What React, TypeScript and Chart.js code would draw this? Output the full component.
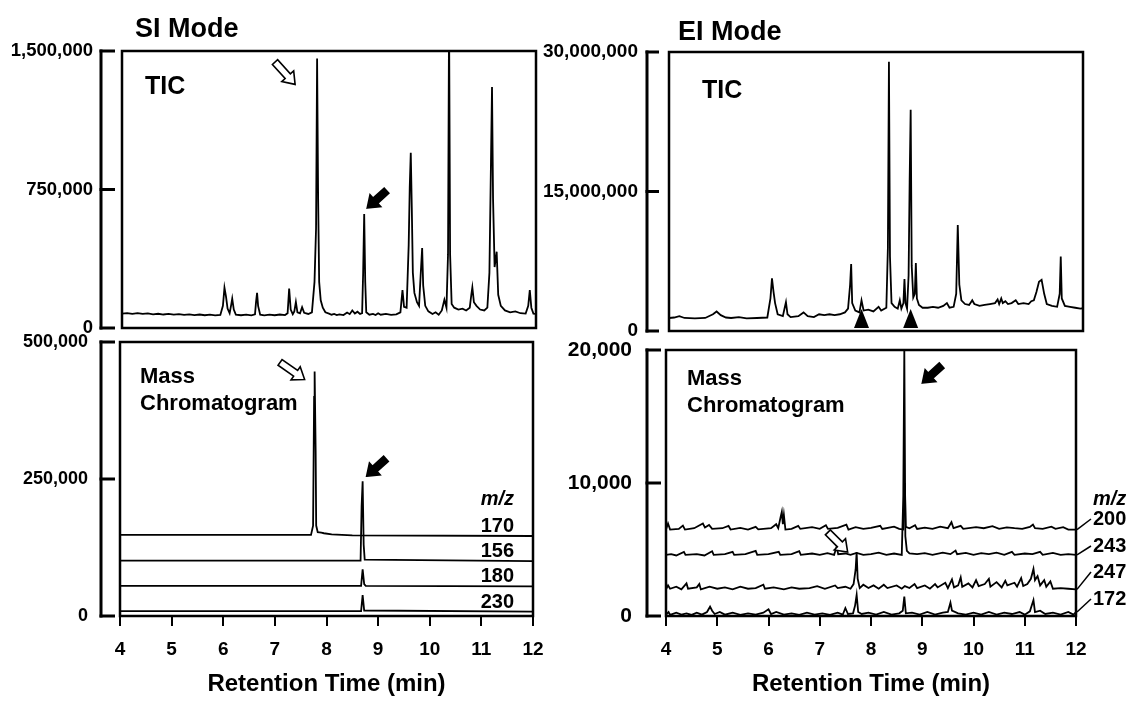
import React, { useEffect, useRef } from "react";
import { Chart, registerables } from "chart.js";

Chart.register(...registerables);

const FONT = '"Liberation Sans", Arial, Helvetica, sans-serif';
const PAGE_W = 1130;
const PAGE_H = 702;

// Retention time axis (min)
const TIME_MIN = 4;
const TIME_MAX = 12;
const X_TITLE = "Retention Time (min)";

// ---------- SI mode : TIC ----------
const SI_TIC: [number, number][] = [
  [4.0, 78000], [4.1, 81000], [4.2, 77000], [4.3, 80000], [4.4, 76000], [4.5, 79000], [4.6, 74000], [4.7, 77000],
  [4.8, 73000], [4.9, 76000], [5.0, 72000], [5.1, 75000], [5.2, 71000], [5.3, 74000], [5.4, 70000], [5.5, 73000],
  [5.6, 69000], [5.7, 72000], [5.8, 68000], [5.9, 71000], [5.95, 120000], [5.98, 218000], [6.01, 170000], [6.04, 105000],
  [6.08, 80000], [6.11, 125000], [6.13, 159000], [6.16, 100000], [6.2, 72000], [6.3, 69000], [6.4, 72000], [6.5, 68000],
  [6.57, 74000], [6.59, 140000], [6.61, 191000], [6.63, 120000], [6.67, 72000], [6.75, 68000], [6.85, 72000], [6.95, 69000],
  [7.05, 73000], [7.15, 70000], [7.2, 80000], [7.23, 213000], [7.26, 100000], [7.3, 75000], [7.33, 90000], [7.36, 141000],
  [7.39, 85000], [7.44, 80000], [7.48, 113000], [7.52, 82000], [7.6, 76000], [7.67, 85000], [7.72, 250000], [7.75, 540000],
  [7.77, 1460000], [7.79, 700000], [7.81, 250000], [7.84, 150000], [7.88, 110000], [7.93, 85000], [8.0, 78000], [8.05, 72000],
  [8.1, 76000], [8.15, 70000], [8.2, 74000], [8.28, 70000], [8.35, 84000], [8.4, 75000], [8.45, 95000], [8.5, 78000],
  [8.55, 88000], [8.6, 76000], [8.64, 80000], [8.66, 300000], [8.68, 617000], [8.7, 250000], [8.72, 85000], [8.78, 72000],
  [8.85, 76000], [8.9, 70000], [8.95, 80000], [9.0, 72000], [9.1, 76000], [9.2, 71000], [9.3, 74000], [9.38, 85000],
  [9.42, 205000], [9.45, 115000], [9.5, 110000], [9.54, 450000], [9.56, 760000], [9.58, 949000], [9.6, 650000], [9.62, 300000],
  [9.65, 190000], [9.7, 140000], [9.74, 120000], [9.77, 280000], [9.8, 433000], [9.82, 230000], [9.86, 120000], [9.92, 90000],
  [10.0, 76000], [10.06, 85000], [10.12, 72000], [10.18, 95000], [10.23, 153000], [10.27, 110000], [10.3, 400000], [10.32, 1700000],
  [10.34, 400000], [10.37, 130000], [10.42, 110000], [10.5, 100000], [10.58, 105000], [10.65, 95000], [10.72, 110000], [10.75, 180000],
  [10.77, 220000], [10.8, 140000], [10.85, 120000], [10.92, 100000], [11.0, 95000], [11.06, 110000], [11.1, 300000], [11.13, 900000],
  [11.15, 1305000], [11.17, 700000], [11.2, 330000], [11.24, 413000], [11.27, 180000], [11.32, 120000], [11.4, 95000], [11.5, 85000],
  [11.6, 90000], [11.7, 80000], [11.8, 78000], [11.85, 120000], [11.88, 205000], [11.91, 110000], [11.95, 78000], [12.0, 76000],
];

// ---------- EI mode : TIC ----------
const EI_TIC: [number, number][] = [
  [4.0, 1400000], [4.1, 1450000], [4.2, 1600000], [4.3, 1400000], [4.5, 1350000], [4.7, 1400000], [4.85, 1800000], [4.92, 2100000],
  [5.0, 1700000], [5.1, 1450000], [5.2, 1400000], [5.35, 1500000], [5.5, 1350000], [5.7, 1400000], [5.9, 1450000], [5.96, 3500000],
  [5.99, 5660000], [6.02, 4200000], [6.05, 3000000], [6.1, 1800000], [6.2, 1600000], [6.24, 2600000], [6.26, 3100000], [6.29, 1800000],
  [6.35, 1500000], [6.5, 1600000], [6.6, 2000000], [6.68, 1600000], [6.8, 1500000], [6.9, 1800000], [7.0, 1700000], [7.1, 1800000],
  [7.2, 1700000], [7.3, 1800000], [7.4, 2000000], [7.46, 2400000], [7.5, 5000000], [7.52, 7200000], [7.54, 3000000], [7.6, 2200000],
  [7.68, 2000000], [7.72, 3300000], [7.76, 2200000], [7.85, 2300000], [7.95, 2100000], [8.05, 2600000], [8.1, 2200000], [8.2, 2500000],
  [8.23, 9000000], [8.25, 28960000], [8.27, 8000000], [8.3, 3000000], [8.36, 2600000], [8.42, 2400000], [8.46, 3300000], [8.49, 2400000],
  [8.53, 3000000], [8.55, 5600000], [8.57, 3000000], [8.6, 2400000], [8.63, 6000000], [8.65, 16000000], [8.67, 23800000], [8.69, 7000000],
  [8.72, 3600000], [8.75, 4000000], [8.77, 7300000], [8.79, 3500000], [8.83, 2800000], [8.9, 2500000], [9.0, 2500000], [9.1, 2600000],
  [9.2, 2500000], [9.3, 2700000], [9.37, 3000000], [9.42, 2500000], [9.5, 2600000], [9.55, 4000000], [9.58, 11400000], [9.61, 5000000],
  [9.65, 3300000], [9.72, 2900000], [9.8, 2800000], [9.86, 3300000], [9.9, 2900000], [10.0, 2700000], [10.1, 2800000], [10.2, 2900000],
  [10.3, 3000000], [10.35, 3400000], [10.38, 2900000], [10.42, 3500000], [10.45, 3000000], [10.5, 3200000], [10.55, 2900000], [10.62, 3000000],
  [10.7, 3300000], [10.75, 2900000], [10.85, 3000000], [10.95, 2900000], [11.0, 3200000], [11.05, 3300000], [11.1, 4200000], [11.15, 5300000],
  [11.2, 5500000], [11.25, 4000000], [11.3, 2900000], [11.4, 2700000], [11.5, 2600000], [11.55, 4000000], [11.57, 8000000], [11.59, 3500000],
  [11.65, 2700000], [11.75, 2600000], [11.85, 2500000], [11.95, 2400000], [12.0, 2450000],
];

// ---------- SI mode : mass chromatograms ----------
const SI_MC_170: [number, number][] = [
  [4.0, 148000], [7.7, 148000], [7.74, 165000], [7.76, 400000], [7.77, 446000], [7.79, 300000], [7.8, 165000], [7.83, 153000],
  [7.9, 152000], [7.95, 151000], [8.1, 149000], [8.5, 147000], [12.0, 146000],
];
const SI_MC_156: [number, number][] = [
  [4.0, 101000], [8.66, 101000], [8.68, 200000], [8.7, 246000], [8.72, 130000], [8.74, 103000], [12.0, 100000],
];
const SI_MC_180: [number, number][] = [
  [4.0, 55000], [8.67, 55000], [8.7, 85000], [8.73, 58000], [8.76, 55000], [12.0, 54000],
];
const SI_MC_230: [number, number][] = [
  [4.0, 9000], [8.67, 9000], [8.7, 38000], [8.73, 10000], [12.0, 8000],
];
const SI_MC_LABELS = ["170", "156", "180", "230"];

// ---------- EI mode : mass chromatograms ----------
const EI_MC_200: [number, number][] = [
  [4.0, 6500], [4.04, 6950], [4.08, 6500], [4.25, 6550], [4.33, 6800], [4.37, 6500], [4.55, 6600], [4.72, 6950],
  [4.76, 6650], [4.84, 6850], [4.9, 6550], [5.1, 6600], [5.22, 6780], [5.26, 6500], [5.45, 6620], [5.6, 6500],
  [5.75, 6700], [5.8, 6520], [6.05, 6600], [6.15, 6900], [6.19, 6600], [6.24, 7500], [6.26, 7830], [6.28, 6900],
  [6.3, 7600], [6.33, 6500], [6.45, 6550], [6.58, 6780], [6.62, 6550], [6.85, 6680], [7.0, 6550], [7.12, 6820],
  [7.16, 6550], [7.35, 6620], [7.52, 6870], [7.56, 6500], [7.7, 6680], [7.85, 6550], [8.0, 6620], [8.18, 6780],
  [8.22, 6550], [8.45, 6720], [8.55, 6550], [8.63, 6500], [8.66, 10000], [8.68, 6700], [8.75, 6600], [8.86, 6820],
  [8.9, 6550], [9.05, 6650], [9.2, 6550], [9.35, 6720], [9.5, 6600], [9.57, 7050], [9.61, 6600], [9.75, 6780],
  [9.8, 6550], [10.05, 6680], [10.2, 6600], [10.37, 6760], [10.5, 6550], [10.65, 6670], [10.8, 6600], [10.95, 6550],
  [11.1, 6700], [11.16, 6880], [11.2, 6600], [11.35, 6550], [11.52, 6720], [11.6, 6550], [11.75, 6680], [11.85, 6500],
  [12.0, 6500],
];
const EI_MC_243: [number, number][] = [
  [4.0, 4600], [4.1, 4650], [4.2, 4550], [4.35, 4820], [4.38, 4600], [4.6, 4650], [4.75, 4550], [4.9, 4870],
  [4.93, 4600], [5.15, 4650], [5.3, 4820], [5.33, 4600], [5.55, 4650], [5.75, 4900], [5.78, 4600], [6.0, 4650],
  [6.2, 4830], [6.23, 4600], [6.45, 4650], [6.6, 4870], [6.63, 4600], [6.85, 4700], [7.0, 4600], [7.15, 4720],
  [7.28, 4600], [7.33, 5200], [7.36, 4650], [7.5, 4700], [7.6, 4600], [7.72, 4750], [7.85, 4600], [8.0, 4650],
  [8.15, 4770], [8.3, 4600], [8.45, 4700], [8.6, 4600], [8.63, 9000], [8.65, 20100], [8.67, 6000], [8.7, 4900],
  [8.75, 4700], [8.9, 4650], [9.05, 4720], [9.2, 4600], [9.4, 4770], [9.55, 4650], [9.65, 4920], [9.68, 4650],
  [9.85, 4750], [10.0, 4600], [10.15, 4720], [10.3, 4650], [10.45, 4770], [10.6, 4600], [10.75, 4820], [10.8, 4600],
  [11.0, 4700], [11.15, 4650], [11.3, 4820], [11.35, 4600], [11.55, 4750], [11.7, 4600], [11.85, 4650], [12.0, 4600],
];
const EI_MC_247: [number, number][] = [
  [4.0, 2000], [4.04, 2300], [4.08, 2050], [4.2, 2200], [4.3, 2000], [4.4, 2450], [4.43, 2050], [4.6, 2150],
  [4.65, 2400], [4.68, 2000], [4.85, 2200], [5.0, 2050], [5.15, 2150], [5.3, 2000], [5.45, 2200], [5.6, 2050],
  [5.75, 2100], [5.9, 2350], [5.93, 2050], [6.1, 2150], [6.3, 2000], [6.45, 2150], [6.6, 2050], [6.8, 2100],
  [6.95, 2250], [7.1, 2050], [7.3, 2300], [7.35, 2100], [7.5, 2200], [7.6, 2050], [7.66, 2400], [7.7, 3500],
  [7.72, 4800], [7.74, 2800], [7.78, 2100], [7.85, 2350], [7.95, 2100], [8.05, 2300], [8.15, 2050], [8.25, 2350],
  [8.32, 2100], [8.5, 2300], [8.6, 2050], [8.66, 2250], [8.75, 2100], [8.85, 2400], [8.9, 2100], [9.05, 2300],
  [9.15, 2050], [9.25, 2400], [9.3, 2150], [9.45, 2500], [9.5, 2100], [9.58, 2750], [9.62, 2150], [9.7, 2300],
  [9.75, 2900], [9.78, 2200], [9.9, 2450], [9.98, 2150], [10.05, 2700], [10.1, 2250], [10.22, 2400], [10.3, 2800],
  [10.33, 2200], [10.45, 2550], [10.55, 2150], [10.62, 2650], [10.66, 2300], [10.8, 2500], [10.85, 2200], [10.93, 2850],
  [10.97, 2250], [11.05, 2400], [11.12, 2800], [11.17, 3540], [11.2, 2700], [11.25, 3000], [11.3, 2300], [11.38, 2700],
  [11.42, 2200], [11.5, 2600], [11.55, 2050], [11.7, 2100], [11.85, 2050], [12.0, 2000],
];
const EI_MC_172: [number, number][] = [
  [4.0, 100], [4.05, 300], [4.08, 80], [4.2, 250], [4.3, 100], [4.4, 200], [4.5, 80], [4.6, 250],
  [4.7, 100], [4.8, 300], [4.86, 700], [4.9, 400], [4.95, 150], [5.05, 300], [5.15, 100], [5.3, 250],
  [5.45, 80], [5.6, 200], [5.75, 100], [5.9, 250], [6.0, 500], [6.05, 150], [6.15, 300], [6.3, 100],
  [6.45, 200], [6.6, 80], [6.75, 250], [6.9, 100], [7.05, 200], [7.2, 80], [7.35, 250], [7.45, 100],
  [7.5, 600], [7.55, 150], [7.65, 200], [7.69, 800], [7.72, 1590], [7.75, 300], [7.82, 150], [7.95, 250],
  [8.1, 100], [8.25, 300], [8.4, 100], [8.55, 200], [8.62, 400], [8.65, 1460], [8.68, 200], [8.8, 250],
  [8.95, 100], [9.1, 300], [9.25, 100], [9.4, 250], [9.5, 300], [9.55, 1000], [9.58, 400], [9.7, 200],
  [9.85, 100], [10.0, 250], [10.15, 100], [10.3, 300], [10.45, 100], [10.6, 250], [10.75, 150], [10.9, 300],
  [11.0, 100], [11.1, 350], [11.17, 1200], [11.2, 300], [11.3, 400], [11.4, 150], [11.55, 250], [11.7, 100],
  [11.85, 300], [11.95, 100], [12.0, 300],
];
const EI_MC_LABELS = ["200", "243", "247", "172"];

// ---------- helpers ----------
type Trace = [number, number][];
type Area = { left: number; top: number; right: number; bottom: number };

interface Panel {
  area: Area;
  yMax: number;
  yStep: number;
  yFont: number;
  yPad: number;
  bracketGap: number;
  tickGap: number;
  xAxis: boolean;
  traces: Trace[];
  draw: (chart: any) => void;
}

function peakNear(trace: Trace, t: number): [number, number] {
  let best: [number, number] = trace[0];
  let found = false;
  for (const p of trace) {
    if (Math.abs(p[0] - t) <= 0.03 && (!found || p[1] > best[1])) {
      best = p;
      found = true;
    }
  }
  return best;
}

function font(size: number, italic = false) {
  return `${italic ? "italic " : ""}bold ${size}px ${FONT}`;
}

function text(ctx: CanvasRenderingContext2D, s: string, x: number, y: number, size: number, align: CanvasTextAlign = "left", italic = false) {
  ctx.save();
  ctx.fillStyle = "#000";
  ctx.font = font(size, italic);
  ctx.textAlign = align;
  ctx.textBaseline = "alphabetic";
  ctx.fillText(s, x, y);
  ctx.restore();
}

function blockArrow(ctx: CanvasRenderingContext2D, tipX: number, tipY: number, angleDeg: number, len: number, filled: boolean) {
  const hl = 11, hw = 8, sw = 3.5;
  ctx.save();
  ctx.translate(tipX, tipY);
  ctx.rotate((angleDeg * Math.PI) / 180);
  ctx.beginPath();
  ctx.moveTo(0, 0);
  ctx.lineTo(-hl, -hw);
  ctx.lineTo(-hl, -sw);
  ctx.lineTo(-len, -sw);
  ctx.lineTo(-len, sw);
  ctx.lineTo(-hl, sw);
  ctx.lineTo(-hl, hw);
  ctx.closePath();
  ctx.fillStyle = filled ? "#000" : "#fff";
  ctx.fill();
  ctx.lineWidth = 1.6;
  ctx.strokeStyle = "#000";
  ctx.lineJoin = "miter";
  ctx.stroke();
  ctx.restore();
}

function triangleUp(ctx: CanvasRenderingContext2D, x: number, yTop: number, yBase: number, half: number) {
  ctx.save();
  ctx.beginPath();
  ctx.moveTo(x, yTop);
  ctx.lineTo(x + half, yBase);
  ctx.lineTo(x - half, yBase);
  ctx.closePath();
  ctx.fillStyle = "#000";
  ctx.fill();
  ctx.restore();
}

function decorate(chart: any, p: Panel) {
  const { ctx, chartArea: a } = chart;
  const ys = chart.scales.y;
  ctx.save();
  // plot frame
  ctx.strokeStyle = "#000";
  ctx.lineWidth = 2.5;
  ctx.strokeRect(a.left, a.top, a.right - a.left, a.bottom - a.top);
  // bracket-style intensity axis
  const bx = a.left - p.bracketGap;
  const tx = a.left - p.tickGap;
  const yTop = ys.getPixelForValue(p.yMax);
  const yBot = ys.getPixelForValue(0);
  ctx.lineWidth = 3;
  ctx.beginPath();
  ctx.moveTo(bx, yTop - 1.5);
  ctx.lineTo(bx, yBot + 1.5);
  ctx.stroke();
  for (const t of ys.ticks) {
    const y = ys.getPixelForValue(t.value);
    ctx.beginPath();
    ctx.moveTo(bx - 1.5, y);
    ctx.lineTo(tx, y);
    ctx.stroke();
  }
  ctx.restore();
  p.draw(chart);
}

// ---------- panels ----------
const PANELS: Panel[] = [
  {
    // SI mode TIC
    area: { left: 122, top: 51, right: 536, bottom: 328 },
    yMax: 1500000, yStep: 750000, yFont: 18.5, yPad: 29,
    bracketGap: 21, tickGap: 7, xAxis: false,
    traces: [SI_TIC],
    draw: (chart) => {
      const { ctx, chartArea: a, scales: { x: xs, y: ys } } = chart;
      text(ctx, "SI Mode", a.left + 13, a.top - 14, 27);
      text(ctx, "TIC", a.left + 23, a.top + 43, 25);
      const w = peakNear(SI_TIC, 7.77);
      blockArrow(ctx, xs.getPixelForValue(w[0]) - 22, ys.getPixelForValue(w[1]) + 26, 48, 30, false);
      const b = peakNear(SI_TIC, 8.68);
      blockArrow(ctx, xs.getPixelForValue(b[0]) + 3, ys.getPixelForValue(b[1]) - 6, 138, 26, true);
    },
  },
  {
    // EI mode TIC
    area: { left: 669, top: 52, right: 1083, bottom: 331 },
    yMax: 30000000, yStep: 15000000, yFont: 19, yPad: 31,
    bracketGap: 22, tickGap: 10, xAxis: false,
    traces: [EI_TIC],
    draw: (chart) => {
      const { ctx, chartArea: a, scales: { x: xs } } = chart;
      text(ctx, "EI Mode", a.left + 9, a.top - 12, 27);
      text(ctx, "TIC", a.left + 33, a.top + 46, 25);
      for (const t of [7.72, 8.67]) {
        triangleUp(ctx, xs.getPixelForValue(t), a.bottom - 22, a.bottom - 3, 7.5);
      }
    },
  },
  {
    // SI mode mass chromatograms
    area: { left: 120, top: 342, right: 533, bottom: 616 },
    yMax: 500000, yStep: 250000, yFont: 18, yPad: 32,
    bracketGap: 19, tickGap: 5, xAxis: true,
    traces: [SI_MC_170, SI_MC_156, SI_MC_180, SI_MC_230],
    draw: (chart) => {
      const { ctx, chartArea: a, scales: { x: xs, y: ys } } = chart;
      text(ctx, "Mass", a.left + 20, a.top + 41, 22);
      text(ctx, "Chromatogram", a.left + 20, a.top + 68, 22);
      const traces = [SI_MC_170, SI_MC_156, SI_MC_180, SI_MC_230];
      let firstY = 0;
      traces.forEach((tr, i) => {
        const y = ys.getPixelForValue(tr[tr.length - 1][1]) - 4;
        if (i === 0) firstY = y;
        text(ctx, SI_MC_LABELS[i], a.right - 19, y, 20, "right");
      });
      text(ctx, "m/z", a.right - 19, firstY - 27, 20, "right", true);
      const w = peakNear(SI_MC_170, 7.77);
      blockArrow(ctx, xs.getPixelForValue(w[0]) - 10, ys.getPixelForValue(w[1]) + 8, 35, 30, false);
      const b = peakNear(SI_MC_156, 8.7);
      blockArrow(ctx, xs.getPixelForValue(b[0]) + 4, ys.getPixelForValue(b[1]) - 5, 138, 26, true);
    },
  },
  {
    // EI mode mass chromatograms
    area: { left: 666, top: 350, right: 1076, bottom: 616 },
    yMax: 20000, yStep: 10000, yFont: 21, yPad: 34,
    bracketGap: 19, tickGap: 5, xAxis: true,
    traces: [EI_MC_200, EI_MC_243, EI_MC_247, EI_MC_172],
    draw: (chart) => {
      const { ctx, chartArea: a, scales: { x: xs, y: ys } } = chart;
      text(ctx, "Mass", a.left + 21, a.top + 35, 22);
      text(ctx, "Chromatogram", a.left + 21, a.top + 62, 22);
      const traces = [EI_MC_200, EI_MC_243, EI_MC_247, EI_MC_172];
      const labelX = a.right + 17;
      const labelBase = [a.bottom - 91, a.bottom - 64, a.bottom - 38, a.bottom - 11];
      ctx.save();
      ctx.strokeStyle = "#000";
      ctx.lineWidth = 1.5;
      traces.forEach((tr, i) => {
        const yEnd = ys.getPixelForValue(tr[tr.length - 1][1]);
        ctx.beginPath();
        ctx.moveTo(a.right + 1, yEnd);
        ctx.lineTo(labelX - 2, labelBase[i] - 6);
        ctx.stroke();
      });
      ctx.restore();
      traces.forEach((_, i) => text(ctx, EI_MC_LABELS[i], labelX, labelBase[i], 20, "left"));
      text(ctx, "m/z", labelX, labelBase[0] - 20, 20, "left", true);
      const b = peakNear(EI_MC_243, 8.65);
      blockArrow(ctx, xs.getPixelForValue(b[0]) + 18, a.top + 33, 138, 26, true);
      const w = peakNear(EI_MC_247, 7.72);
      blockArrow(ctx, xs.getPixelForValue(w[0]) - 9, ys.getPixelForValue(w[1]), 45, 28, false);
    },
  },
];

function buildChart(canvas: HTMLCanvasElement, p: Panel) {
  // the y-axis box spans from the page's left edge to the plot frame, so its labels are never clipped
  const yW = p.area.left - 2;
  const xH = p.xAxis ? PAGE_H - p.area.bottom : 0;
  return new Chart(canvas, {
    type: "line",
    data: {
      datasets: p.traces.map((tr) => ({
        data: tr.map(([x, y]) => ({ x, y })),
        borderColor: "#000",
        borderWidth: 1.8,
        pointRadius: 0,
        tension: 0,
        fill: false,
      })),
    },
    options: {
      animation: false,
      responsive: false,
      maintainAspectRatio: false,
      events: [],
      layout: {
        padding: {
          left: p.area.left - yW,
          top: p.area.top,
          right: PAGE_W - p.area.right,
          bottom: p.xAxis ? 0 : PAGE_H - p.area.bottom,
        },
      },
      plugins: { legend: { display: false }, tooltip: { enabled: false }, title: { display: false } },
      scales: {
        x: {
          type: "linear",
          min: TIME_MIN,
          max: TIME_MAX,
          display: p.xAxis,
          ticks: {
            stepSize: 1,
            autoSkip: false,
            maxRotation: 0,
            color: "#000",
            padding: 12,
            font: { family: FONT, size: 19, weight: "bold" },
          },
          grid: { drawOnChartArea: false, drawTicks: true, tickLength: 10, color: "#000", lineWidth: 2 },
          border: { display: false },
          title: {
            display: p.xAxis,
            text: X_TITLE,
            color: "#000",
            font: { family: FONT, size: 24, weight: "bold" },
            padding: { top: 0, bottom: 3 },
          },
          afterFit: (s: any) => {
            s.height = xH;
          },
        },
        y: {
          type: "linear",
          min: 0,
          max: p.yMax,
          ticks: {
            stepSize: p.yStep,
            color: "#000",
            padding: p.yPad,
            font: { family: FONT, size: p.yFont, weight: "bold" },
          },
          grid: { display: false, drawTicks: false },
          border: { display: false },
          afterFit: (s: any) => {
            s.width = yW;
          },
        },
      },
    } as any,
    plugins: [{ id: "decor", afterDraw: (chart: any) => decorate(chart, p) }],
  });
}

function PanelCanvas({ panel }: { panel: Panel }) {
  const ref = useRef<HTMLCanvasElement | null>(null);
  useEffect(() => {
    if (!ref.current) return;
    const chart = buildChart(ref.current, panel);
    return () => chart.destroy();
  }, [panel]);
  return (
    <canvas
      ref={ref}
      width={PAGE_W}
      height={PAGE_H}
      style={{ position: "absolute", left: 0, top: 0, width: PAGE_W, height: PAGE_H }}
    />
  );
}

export default function App() {
  return (
    <div style={{ position: "absolute", left: 0, top: 0, width: PAGE_W, height: PAGE_H, background: "#fff" }}>
      {PANELS.map((p, i) => (
        <PanelCanvas key={i} panel={p} />
      ))}
    </div>
  );
}
